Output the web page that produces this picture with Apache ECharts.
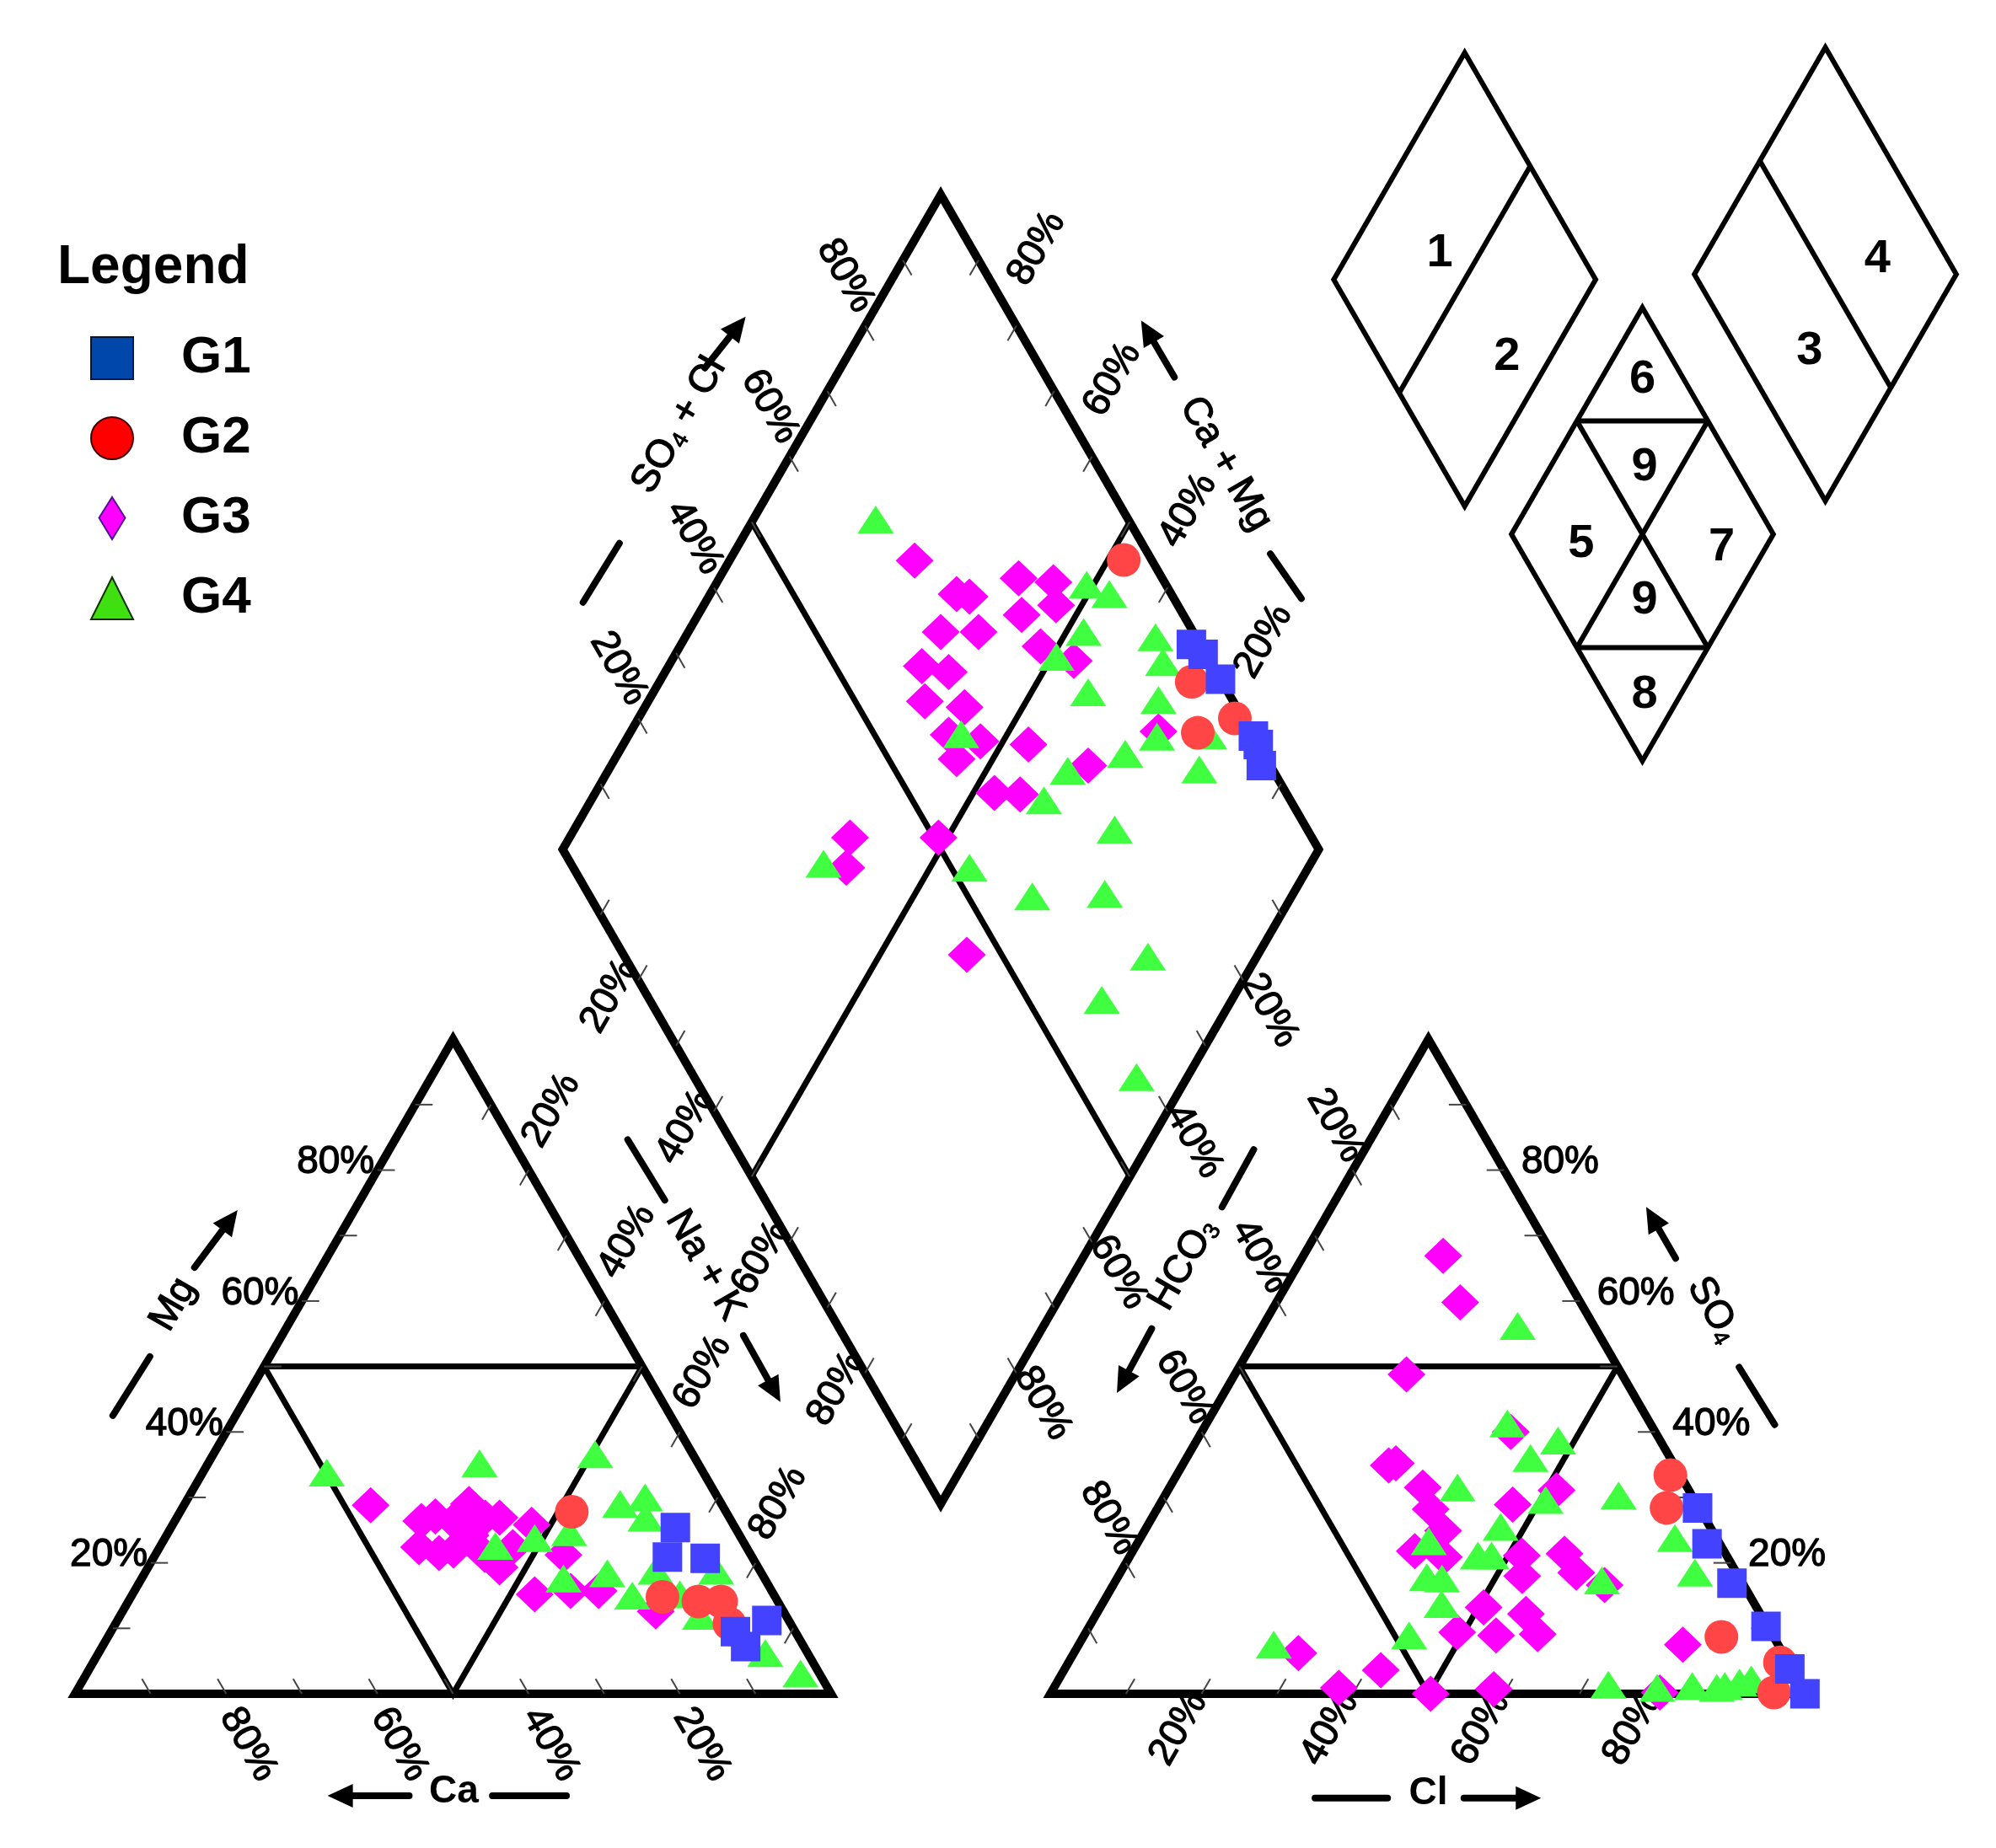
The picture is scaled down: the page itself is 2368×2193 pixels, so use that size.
<!DOCTYPE html>
<html><head><meta charset="utf-8">
<script src="https://cdn.jsdelivr.net/npm/echarts/dist/echarts.min.js"></script>
<style>html,body{margin:0;padding:0;background:#fff}#c{width:2368px;height:2193px}</style>
</head><body><div id="c"></div>
<script>
// ---------------- DATA (percent values) ----------------
const groups = ['G1', 'G2', 'G3', 'G4'];
const tickLabelValues = [20, 40, 60, 80];
const tickLabels = ['20%', '40%', '60%', '80%'];
const zoneLabels = ['1', '2', '3', '4', '5', '6', '7', '8', '9'];

// Cation triangle: [Mg %, Na+K %]   (Ca % = 100 - Mg - Na+K)
const cationG1 = [[25.4,66.7],[20.9,67.9],[20.7,73.0],[11.2,85.9],[9.5,82.6],[7.2,85.1]];
const cationG2 = [[27.8,51.8],[14.8,70.3],[14.1,75.4],[14.1,78.4],[10.7,81.2]];
const cationG3 = [[28.8,24.7],[26.4,32.6],[27.1,34.1],[22.4,34.3],[21.5,37.4],[26.4,36.8],[29.0,37.6],[24.2,40.2],[26.9,40.8],[26.9,42.7],[21.2,43.6],[19.3,46.5],[25.8,47.5],[22.4,46.7],[15.2,53.2],[21.2,54.0],[15.7,57.7],[15.7,61.4],[12.6,70.5],[21.9,39.1]];
const cationG4 = [[33.8,16.4],[35.2,35.9],[36.6,50.5],[22.6,44.3],[23.8,48.9],[24.7,53.0],[29.0,57.6],[30.0,60.4],[26.9,62.0],[17.6,55.8],[18.4,61.2],[15.0,66.2],[18.8,67.4],[15.2,72.4],[18.8,75.4],[11.9,76.7],[6.2,88.2],[3.1,94.4]];

// Anion triangle: [SO4 %, Cl %]   (HCO3 % = 100 - SO4 - Cl)
const anionG1 = [[28.4,71.4],[22.9,75.4],[16.9,81.7],[10.3,89.5],[3.8,95.9],[0,99.8]];
const anionG2 = [[33.4,65.3],[28.4,67.3],[8.7,84.4],[4.8,94.1],[0.2,95.6]];
const anionG3 = [[66.9,18.5],[59.8,24.3],[48.8,22.7],[40.0,40.9],[34.9,27.3],[35.2,28.1],[31.5,33.5],[28.2,36.2],[24.9,39.5],[28.9,46.7],[31.1,51.4],[21.8,37.3],[20.9,41.6],[21.1,51.8],[18.0,53.4],[21.4,57.3],[18.5,60.3],[16.6,65.0],[13.2,50.7],[9.4,49.1],[12.2,56.8],[9.1,59.9],[8.9,54.5],[6.2,29.7],[3.6,41.9],[0.9,37.7],[0,50.3],[0.7,58.3],[7.5,79.9],[0.2,80.5]];
const anionG4 = [[56.2,33.7],[41.3,39.8],[38.7,47.8],[36.0,45.5],[31.5,38.1],[30.3,60.0],[29.6,50.7],[25.5,46.8],[23.3,38.4],[21.1,46.0],[21.1,47.8],[23.8,70.7],[17.8,40.9],[17.6,43.0],[13.7,44.9],[18.5,76.0],[17.3,64.3],[8.9,43.0],[7.5,25.8],[1.4,73.1],[0.9,79.8],[1.2,84.3],[1.2,88.6],[1.7,90.3],[2.2,91.6],[0.9,87.7]];

// Diamond: [SO4+Cl %, Ca+Mg %]
const diamondG1 = [[98.8,32.5],[99.6,30.2],[100,26.0],[100,17.3],[100,16.0],[98.8,14.0]];
const diamondG2 = [[96.3,47.9],[96.0,29.6],[98.9,21.1],[92.9,24.9]];
const diamondG3 = [[68.6,75.5],[71.6,67.4],[73.1,65.5],[81.0,60.4],[85.3,55.5],[78.6,57.2],[83.9,53.4],[66.6,66.6],[71.6,61.6],[78.7,52.3],[82.0,46.8],[61.5,66.5],[64.6,62.5],[59.2,63.4],[64.0,57.7],[59.8,57.7],[63.5,53.0],[69.6,46.4],[59.0,54.8],[75.9,36.9],[61.4,47.2],[64.7,43.7],[87.8,30.2],[38.9,62.9],[36.1,61.1],[50.6,51.2],[45.4,38.5]];
const diamondG4 = [[66.6,83.8],[89.5,50.9],[91.8,47.2],[85.5,47.7],[94.6,37.8],[93.7,34.9],[80.0,49.4],[81.5,42.5],[90.2,32.6],[87.2,30.0],[81.7,32.9],[94.2,23.2],[90.3,21.9],[72.8,39.2],[61.5,56.1],[67.4,40.1],[74.5,28.5],[33.4,64.4],[52.4,44.8],[58.5,34.3],[68.3,24.9],[69.2,14.4],[59.8,17.2],[58.5,6.7]];

// ---------------- GEOMETRY (Piper layout in percent units) ----------------
const FONT = '"Liberation Sans", Arial, sans-serif';
const S3 = Math.sqrt(3) / 2;
const GAP = 29;
const R0X = 100 + GAP;
const DB = [100 + GAP / 2, GAP / 2 * Math.sqrt(3)];
const DR = [DB[0] + 50, DB[1] + 100 * S3];
const DL = [DB[0] - 50, DB[1] + 100 * S3];
const DT = [DB[0], DB[1] + 200 * S3];
const L0 = [0, 0], L1 = [100, 0], L2 = [50, 100 * S3];
const R0 = [R0X, 0], R1 = [R0X + 100, 0], R2 = [R0X + 50, 100 * S3];
const mid = (a, b) => [(a[0] + b[0]) / 2, (a[1] + b[1]) / 2];

const cat = p => [p[1] + p[0] / 2, S3 * p[0]];
const ani = p => [R0X + p[1] + p[0] / 2, S3 * p[0]];
const dia = p => [DB[0] + 0.5 * (p[0] - p[1]), DB[1] + S3 * (p[0] + p[1])];

const groupData = {
  G1: cationG1.map(cat).concat(anionG1.map(ani), diamondG1.map(dia)),
  G2: cationG2.map(cat).concat(anionG2.map(ani), diamondG2.map(dia)),
  G3: cationG3.map(cat).concat(anionG3.map(ani), diamondG3.map(dia)),
  G4: cationG4.map(cat).concat(anionG4.map(ani), diamondG4.map(dia))
};

// axis edges: point for value v, inward tick direction, label offset, rotation
const axesDef = [
  { pt: v => [100 - v, 0], dir: [-0.5, S3], off: [2.9, -6.7], rot: -60, align: 'center' },           // Ca
  { pt: v => [v / 2, S3 * v], dir: [1, 0], off: [-0.4, 1.0], rot: 0, align: 'right' },               // Mg
  { pt: v => [50 + v / 2, S3 * (100 - v)], dir: [-0.5, -S3], off: [3.0, 7.9], rot: 60, align: 'center' }, // Na+K
  { pt: v => [R0X + v, 0], dir: [0.5, S3], off: [-3.05, -4.6], rot: 60, align: 'center' },            // Cl
  { pt: v => [R0X + 100 - v / 2, S3 * v], dir: [-1, 0], off: [2.3, 1.0], rot: 0, align: 'left' },     // SO4
  { pt: v => [R0X + (100 - v) / 2, S3 * (100 - v)], dir: [0.5, -S3], off: [-2.3, 5.9], rot: -60, align: 'center' }, // HCO3
  { pt: v => [DL[0] + v / 2, DL[1] + S3 * v], dir: [0.5, -S3], off: [-2.6, 6.6], rot: -60, align: 'center' },  // SO4+Cl
  { pt: v => [DR[0] - v / 2, DR[1] + S3 * v], dir: [-0.5, -S3], off: [2.7, 10.2], rot: 60, align: 'center' },   // Ca+Mg
  { pt: v => [DB[0] - (100 - v) / 2, DB[1] + S3 * (100 - v)], dir: [0.5, S3], off: [-3.8, -2.1], rot: 60, align: 'center' }, // Na+K
  { pt: v => [DB[0] + (100 - v) / 2, DB[1] + S3 * (100 - v)], dir: [-0.5, S3], off: [3.5, -4.0], rot: -60, align: 'center' } // HCO3
];

const titles = [
  { text: 'Mg', c: [13.0, 51.5], rot: 60, dash: [[5.0, 36.8], [9.9, 44.6]], arrow: [[15.8, 56.4], [21.5, 64.0]] },
  { text: 'Ca', bold: true, c: [50.1, -13.0], rot: 0, dash: [[55.2, -13.5], [65.0, -13.5]], arrow: [[44.2, -13.5], [33.4, -13.5]] },
  { text: 'Na + K', c: [83.3, 56.7], rot: -60, dash: [[73.1, 73.3], [78.0, 65.3]], arrow: [[88.4, 47.4], [93.3, 38.6]] },
  { text: 'SO{s|4} + Cl', c: [79.9, 167.8], rot: 60, dash: [[67.2, 144.4], [72.0, 152.2]], arrow: [[83.3, 175.4], [88.7, 182.2]] },
  { text: 'Ca + Mg', c: [152.2, 162.7], rot: -60, dash: [[158.1, 150.8], [162.2, 144.9]], arrow: [[145.4, 174.2], [141.0, 181.7]] },
  { text: 'HCO{s|3}', c: [146.6, 56.8], rot: 60, dash: [[151.7, 64.4], [155.9, 72.0]], arrow: [[142.4, 48.3], [137.8, 39.8]] },
  { text: 'SO{s|4}', c: [216.7, 50.8], rot: -60, dash: [[220.1, 43.2], [224.8, 35.6]], arrow: [[211.7, 57.6], [207.8, 64.4]] },
  { text: 'Cl', bold: true, c: [179.0, -13.2], rot: 0, dash: [[164.0, -13.8], [173.6, -13.8]], arrow: [[183.7, -13.8], [193.9, -13.8]] }
];

// inset classification diagram
const IH = 30.0, IW = IH * Math.tan(Math.PI / 6);
const insetLeftC = [183.8, 187.1], insetRightC = [231.5, 187.8], insetMidC = [207.3, 153.4];
const dmd = c => ({ T: [c[0], c[1] + IH], R: [c[0] + IW, c[1]], B: [c[0], c[1] - IH], L: [c[0] - IW, c[1]] });

function renderFrame(params, api) {
  const els = [];
  const P = p => api.coord(p);
  const poly = (pts, w, closed) => els.push({
    type: closed ? 'polygon' : 'polyline',
    shape: { points: pts.map(P) },
    style: { fill: 'none', stroke: '#000', lineWidth: w, lineJoin: 'miter' }
  });
  poly([L0, L1, L2], 10, true);
  poly([R0, R1, R2], 10, true);
  poly([DB, DR, DT, DL], 10, true);
  poly([[25, 50 * S3], [75, 50 * S3]], 7);
  poly([[25, 50 * S3], [50, 0], [75, 50 * S3]], 7);
  poly([[R0X + 25, 50 * S3], [R0X + 75, 50 * S3]], 7);
  poly([[R0X + 25, 50 * S3], [R0X + 50, 0], [R0X + 75, 50 * S3]], 7);
  poly([mid(DL, DT), mid(DB, DR)], 7);
  poly([mid(DT, DR), mid(DL, DB)], 7);
  axesDef.forEach(ax => {
    for (let v = 10; v <= 90; v += 10) {
      const a = ax.pt(v);
      const b = [a[0] + ax.dir[0] * 2.3, a[1] + ax.dir[1] * 2.3];
      const pa = P(a), pb = P(b);
      els.push({ type: 'line', shape: { x1: pa[0], y1: pa[1], x2: pb[0], y2: pb[1] }, style: { stroke: '#444', lineWidth: 2 } });
    }
  });
  const dl = dmd(insetLeftC), dr = dmd(insetRightC), dm = dmd(insetMidC);
  poly([dl.T, dl.R, dl.B, dl.L], 6, true);
  poly([mid(dl.T, dl.R), mid(dl.L, dl.B)], 6);
  poly([dr.T, dr.R, dr.B, dr.L], 6, true);
  poly([mid(dr.T, dr.L), mid(dr.R, dr.B)], 6);
  poly([dm.T, dm.R, dm.B, dm.L], 6, true);
  poly([mid(dm.T, dm.L), mid(dm.T, dm.R)], 6);
  poly([mid(dm.B, dm.L), mid(dm.B, dm.R)], 6);
  poly([mid(dm.T, dm.L), mid(dm.B, dm.R)], 6);
  poly([mid(dm.T, dm.R), mid(dm.B, dm.L)], 6);

  titles.forEach(t => {
    const d0 = P(t.dash[0]), d1 = P(t.dash[1]);
    els.push({ type: 'line', shape: { x1: d0[0], y1: d0[1], x2: d1[0], y2: d1[1] }, style: { stroke: '#000', lineWidth: 8, lineCap: 'round' } });
    const S = P(t.arrow[0]), T = P(t.arrow[1]);
    const dx = T[0] - S[0], dy = T[1] - S[1], len = Math.hypot(dx, dy), ux = dx / len, uy = dy / len;
    const hl = 30, hw = 14;
    const B = [T[0] - ux * hl, T[1] - uy * hl];
    els.push({ type: 'line', shape: { x1: S[0], y1: S[1], x2: B[0] + ux * 4, y2: B[1] + uy * 4 }, style: { stroke: '#000', lineWidth: 8, lineCap: 'round' } });
    els.push({ type: 'polygon', shape: { points: [T, [B[0] - uy * hw, B[1] + ux * hw], [B[0] + uy * hw, B[1] - ux * hw]] }, style: { fill: '#000' } });
  });
  return { type: 'group', children: els };
}

function renderText(params, api) {
  const els = [];
  const P = p => api.coord(p);
  const txt = (pos, text, opt) => {
    const p = P(pos);
    els.push({
      type: 'text', x: p[0], y: p[1], rotation: (opt.rot || 0) * Math.PI / 180,
      style: {
        text: text, fill: '#000', fontFamily: FONT, fontSize: opt.size || 46,
        fontWeight: opt.bold ? 'bold' : 'normal',
        stroke: opt.bold ? null : '#000', lineWidth: opt.bold ? 0 : 1.3,
        align: opt.align || 'center', verticalAlign: 'middle',
        textAlign: opt.align || 'center', textVerticalAlign: 'middle',
        rich: { s: { fontSize: 27, fontFamily: FONT, verticalAlign: 'bottom', lineHeight: 48, stroke: '#000', lineWidth: 1 } }
      }
    });
  };
  axesDef.forEach(ax => {
    tickLabelValues.forEach((v, i) => {
      const a = ax.pt(v);
      txt([a[0] + ax.off[0], a[1] + ax.off[1]], tickLabels[i], { rot: ax.rot, align: ax.align });
    });
  });
  titles.forEach(t => txt(t.c, t.text, { rot: t.rot, bold: t.bold }));
  const zpos = [
    [insetLeftC[0] - 3.3, insetLeftC[1] + 3.5],
    [insetLeftC[0] + 5.6, insetLeftC[1] - 10.2],
    [insetRightC[0] - 2.1, insetRightC[1] - 10.2],
    [insetRightC[0] + 6.9, insetRightC[1] + 2.0],
    [insetMidC[0] - 8.1, insetMidC[1] - 1.3],
    [insetMidC[0] + 0.0, insetMidC[1] + 20.4],
    [insetMidC[0] + 10.5, insetMidC[1] - 1.7],
    [insetMidC[0] + 0.3, insetMidC[1] - 21.2],
    [insetMidC[0] + 0.3, insetMidC[1] + 8.9]
  ];
  zoneLabels.forEach((z, i) => txt(zpos[i], z, { size: 56, bold: true }));
  txt([insetMidC[0] + 0.3, insetMidC[1] - 8.8], '9', { size: 56, bold: true });
  return { type: 'group', children: els };
}

const styles = {
  G1: { symbol: 'rect', size: [35, 35], color: '#4343FF', z: 6 },
  G2: { symbol: 'circle', size: 40, color: '#FF4545', z: 5 },
  G3: { symbol: 'diamond', size: [45, 43], color: '#FF00FF', z: 3 },
  G4: { symbol: 'triangle', size: [43, 33], color: '#40FF40', z: 4 }
};

const chart = echarts.init(document.getElementById('c'), null, { renderer: 'canvas' });
chart.setOption({
  animation: false,
  backgroundColor: '#fff',
  title: { text: 'Legend', left: 68, top: 286, padding: 0, textStyle: { fontSize: 64, fontWeight: 'bold', fontFamily: FONT, color: '#000' } },
  legend: {
    orient: 'vertical', left: 107, top: 394, padding: 0,
    itemWidth: 50, itemHeight: 50, itemGap: 33,
    selectedMode: false,
    textStyle: { fontSize: 62, fontWeight: 'bold', fontFamily: FONT, color: '#000', lineHeight: 50, padding: [0, 0, 0, 52] },
    data: [
      { name: 'G1', icon: 'rect', itemStyle: { color: '#0047AB', borderColor: '#00163a', borderWidth: 2 } },
      { name: 'G2', icon: 'circle', itemStyle: { color: '#FF0000', borderColor: '#400000', borderWidth: 2 } },
      { name: 'G3', icon: 'path://M17,0 L34,27 L17,55 L0,27 Z', itemStyle: { color: '#FF00FF', borderColor: '#5010a0', borderWidth: 2 } },
      { name: 'G4', icon: 'triangle', itemStyle: { color: '#40E010', borderColor: '#103000', borderWidth: 2 } }
    ]
  },
  grid: { left: 0, right: 0, top: 0, bottom: 0 },
  xAxis: { type: 'value', min: -9.922, max: 254.07, show: false },
  yAxis: { type: 'value', min: -20.40, max: 224.08, show: false },
  series: [
    { type: 'custom', name: 'frame', coordinateSystem: 'cartesian2d', data: [[0, 0]], renderItem: renderFrame, z: 1, silent: true, clip: false },
    { type: 'custom', name: 'text', coordinateSystem: 'cartesian2d', data: [[0, 0]], renderItem: renderText, z: 1, silent: true, clip: false }
  ].concat(groups.map(g => ({
    type: 'scatter', name: g, data: groupData[g],
    symbol: styles[g].symbol, symbolSize: styles[g].size,
    itemStyle: { color: styles[g].color, opacity: 1 },
    z: styles[g].z, silent: true
  })))
});
</script>
</body></html>
